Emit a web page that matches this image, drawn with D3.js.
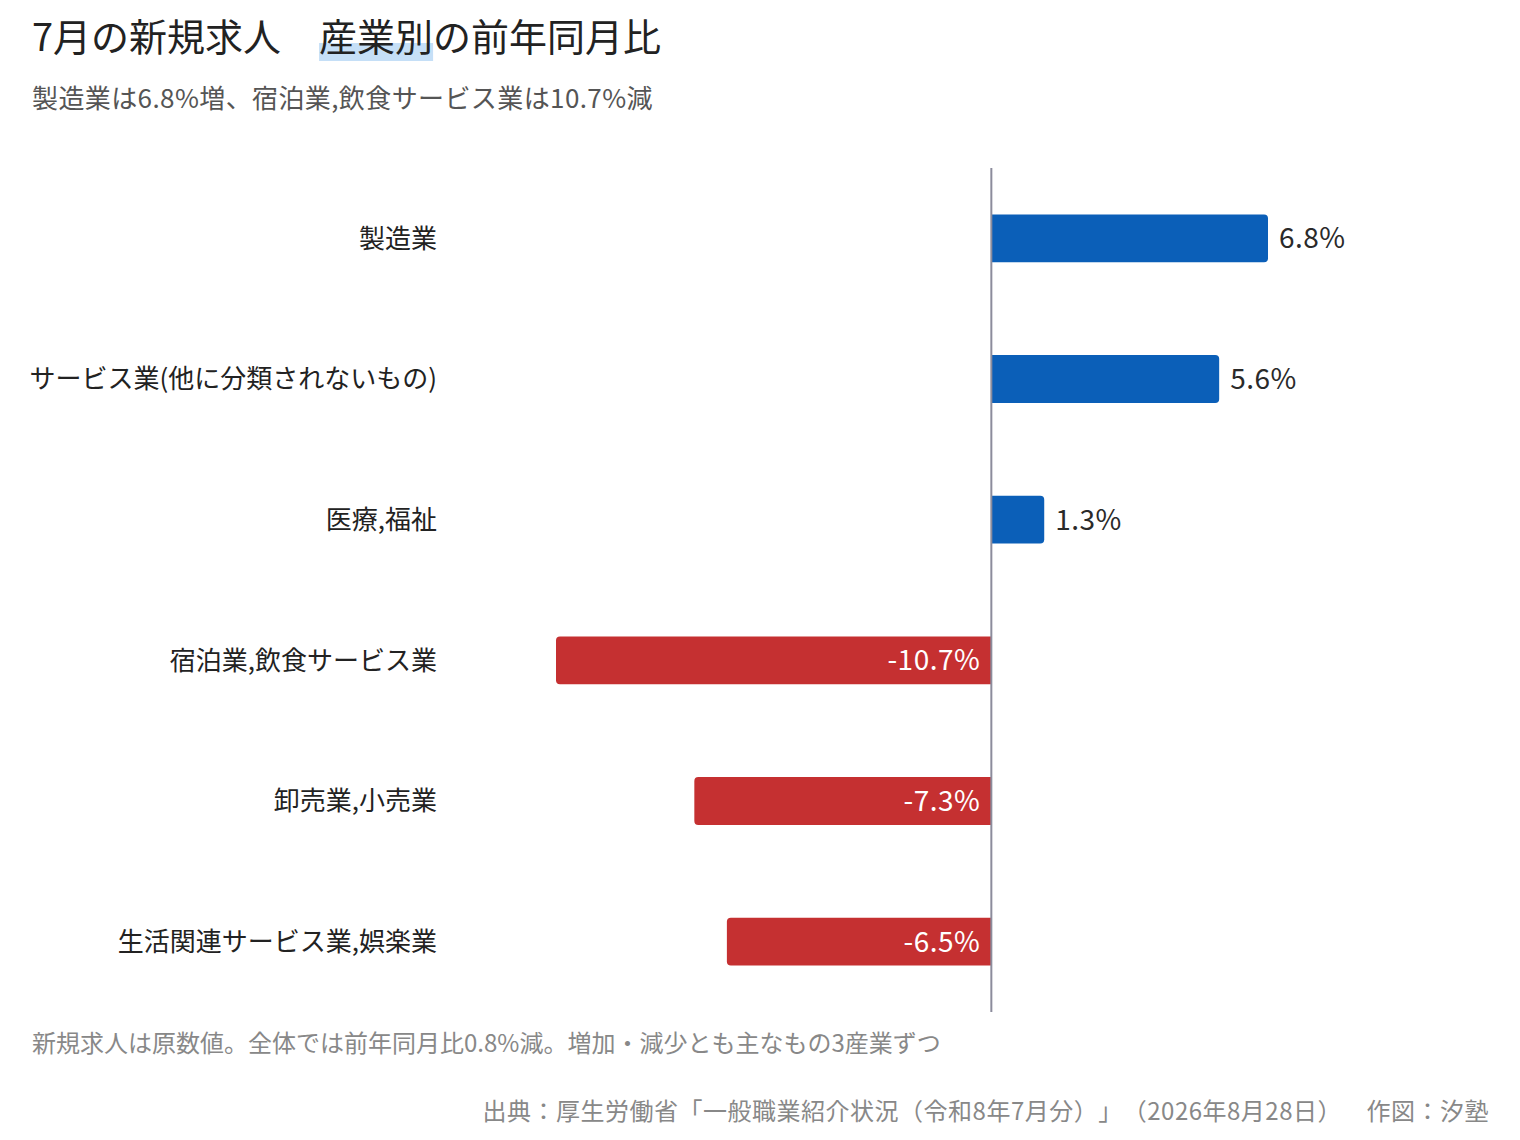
<!DOCTYPE html>
<html><head><meta charset="utf-8">
<script src="https://cdn.jsdelivr.net/npm/d3@7"></script>
<style>
body{margin:0;background:#fff;}
text{font-family:"Noto Sans CJK JP","Noto Sans",sans-serif;text-spacing-trim:space-all;}
</style></head>
<body>
<svg id="chart" width="1520" height="1140"></svg>
<script>
const categories = ["製造業","サービス業(他に分類されないもの)","医療,福祉","宿泊業,飲食サービス業","卸売業,小売業","生活関連サービス業,娯楽業"];
const values = [6.8, 5.6, 1.3, -10.7, -7.3, -6.5];
const titleParts = ["7月の新規求人　", "産業別", "の前年同月比"];
const subtitle = "製造業は6.8%増、宿泊業,飲食サービス業は10.7%減";
const note = "新規求人は原数値。全体では前年同月比0.8%減。増加・減少とも主なもの3産業ずつ";
const source = "出典：厚生労働省「一般職業紹介状況（令和8年7月分）」（2026年8月28日）　作図：汐塾";

const svg = d3.select("#chart");
const x = d3.scaleLinear().domain([-10.7, 6.8]).range([556, 1268]);
const y = d3.scaleBand().domain(categories).range([168, 1012]).paddingInner(0.66).paddingOuter(0.33);

// title with highlight
const title = svg.append("text").attr("x", 32).attr("y", 51).attr("font-size", 38).attr("fill", "#222");
title.text(titleParts.join(""));
const n0 = titleParts[0].length, n1 = titleParts[1].length;
const node = title.node();
const sx = node.getStartPositionOfChar(n0).x;
const w = node.getSubStringLength(n0, n1);
svg.insert("rect", "text").attr("x", sx).attr("y", 43).attr("width", w).attr("height", 18).attr("fill", "#c5dff7");

svg.append("text").attr("x", 32).attr("y", 108).attr("font-size", 26).attr("letter-spacing", 0.4).attr("fill", "#555").text(subtitle);

// bars
const r = 4;
const z = x(0);
values.forEach((v, i) => {
  const c = categories[i];
  const y0 = y(c), h = y.bandwidth(), xe = x(v);
  let p;
  if (v >= 0) {
    p = `M${z},${y0}H${xe - r}Q${xe},${y0} ${xe},${y0 + r}V${y0 + h - r}Q${xe},${y0 + h} ${xe - r},${y0 + h}H${z}Z`;
  } else {
    p = `M${z},${y0}H${xe + r}Q${xe},${y0} ${xe},${y0 + r}V${y0 + h - r}Q${xe},${y0 + h} ${xe + r},${y0 + h}H${z}Z`;
  }
  svg.append("path").attr("d", p).attr("fill", v >= 0 ? "#0b5fb8" : "#c53031");
  const cy = y0 + h / 2;
  if (v >= 0) {
    svg.append("text").attr("x", xe + 11).attr("y", cy).attr("dy", "0.36em").attr("font-size", 28).attr("letter-spacing", 0.5).attr("fill", "#2a2a2a").text(d3.format(".1f")(v) + "%");
  } else {
    svg.append("text").attr("x", z - 11).attr("y", cy).attr("dy", "0.36em").attr("text-anchor", "end").attr("font-size", 28).attr("letter-spacing", 0.5).attr("fill", "#fff").text(d3.format(".1f")(v).replace("−", "-") + "%");
  }
  svg.append("text").attr("x", 437).attr("y", cy).attr("dy", "0.36em").attr("text-anchor", "end").attr("font-size", 26).attr("fill", "#222").text(c);
});

// zero line
svg.append("line").attr("x1", z).attr("x2", z).attr("y1", 168).attr("y2", 1012).attr("stroke", "#8c8c9c").attr("stroke-width", 2);

svg.append("text").attr("x", 32).attr("y", 1052).attr("font-size", 24).attr("fill", "#888").text(note);
svg.append("text").attr("x", 1489).attr("y", 1120).attr("text-anchor", "end").attr("font-size", 24).attr("letter-spacing", 0.5).attr("fill", "#888").text(source);
</script>
</body></html>
